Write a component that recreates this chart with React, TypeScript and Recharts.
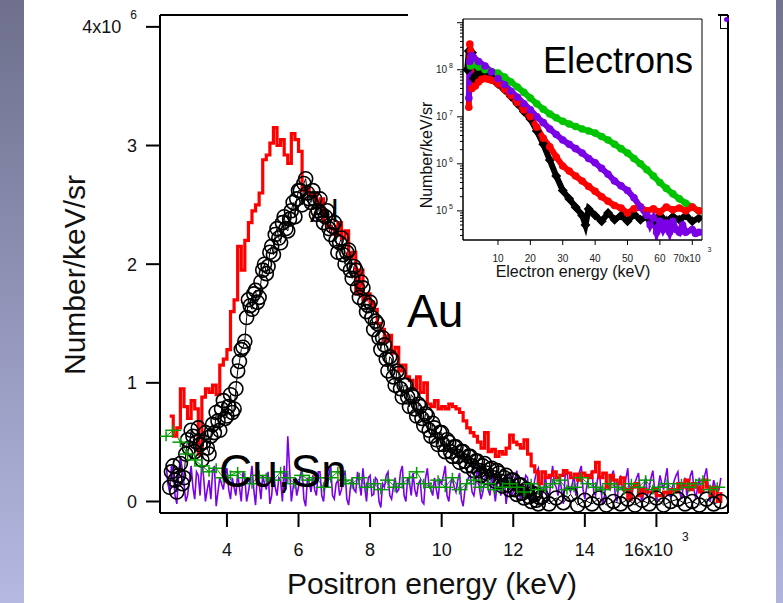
import React from 'react';
import { ComposedChart, LineChart, Line, XAxis, YAxis, ReferenceLine, ReferenceArea } from 'recharts';

const FONT = '"Liberation Sans", Arial, Helvetica, sans-serif';

// ---------- Main plot: positron spectra (x in keV, y in 10^6 Number/keV/sr) ----------
const fineEnergy = [
  2.3, 2.4, 2.5, 2.6, 2.7, 2.8, 2.9, 3.0, 3.1, 3.2, 3.3, 3.4, 3.5, 3.6, 3.7, 3.8, 3.9,
  4.0, 4.1, 4.2, 4.3, 4.4, 4.5, 4.6, 4.7, 4.8, 4.9,
  5.0, 5.1, 5.2, 5.3, 5.4, 5.5, 5.6, 5.7, 5.8, 5.9,
  6.0, 6.1, 6.2, 6.3, 6.4, 6.5, 6.6, 6.7, 6.8, 6.9,
  7.0, 7.1, 7.2, 7.3, 7.4, 7.5, 7.6, 7.7, 7.8, 7.9,
  8.0, 8.1, 8.2, 8.3, 8.4, 8.5, 8.6, 8.7, 8.8, 8.9,
  9.0, 9.1, 9.2, 9.3, 9.4, 9.5, 9.6, 9.7, 9.8, 9.9,
  10.0, 10.1, 10.2, 10.3, 10.4, 10.5, 10.6, 10.7, 10.8, 10.9,
  11.0, 11.1, 11.2, 11.3, 11.4, 11.5, 11.6, 11.7, 11.8, 11.9,
  12.0, 12.1, 12.2, 12.3, 12.4, 12.5, 12.6, 12.7, 12.8, 12.9,
  13.0, 13.1, 13.2, 13.3, 13.4, 13.5, 13.6, 13.7, 13.8, 13.9,
  14.0, 14.1, 14.2, 14.3, 14.4, 14.5, 14.6, 14.7, 14.8, 14.9,
  15.0, 15.1, 15.2, 15.3, 15.4, 15.5, 15.6, 15.7, 15.8, 15.9,
  16.0, 16.1, 16.2, 16.3, 16.4, 16.5, 16.6, 16.7, 16.8, 16.9,
  17.0, 17.1, 17.2, 17.3, 17.4, 17.5, 17.6, 17.7, 17.8,
];

const halfEnergy = [
  2.35, 2.45, 2.55, 2.65, 2.75, 2.85, 2.95, 3.05, 3.15, 3.25, 3.35, 3.45, 3.55, 3.65, 3.75, 3.85, 3.95,
  4.05, 4.15, 4.25, 4.35, 4.45, 4.55, 4.65, 4.75, 4.85, 4.95,
  5.05, 5.15, 5.25, 5.35, 5.45, 5.55, 5.65, 5.75, 5.85, 5.95,
  6.05, 6.15, 6.25, 6.35, 6.45, 6.55, 6.65, 6.75, 6.85, 6.95,
  7.05, 7.15, 7.25, 7.35, 7.45, 7.55, 7.65, 7.75, 7.85, 7.95,
  8.05, 8.15, 8.25, 8.35, 8.45, 8.55, 8.65, 8.75, 8.85, 8.95,
  9.05, 9.15, 9.25, 9.35, 9.45, 9.55, 9.65, 9.75, 9.85, 9.95,
  10.05, 10.15, 10.25, 10.35, 10.45, 10.55, 10.65, 10.75, 10.85, 10.95,
  11.05, 11.15, 11.25, 11.35, 11.45, 11.55, 11.65, 11.75, 11.85, 11.95,
  12.05, 12.15, 12.25, 12.35, 12.45, 12.55, 12.65, 12.75, 12.85, 12.95,
  13.05, 13.15, 13.25, 13.35, 13.45, 13.55, 13.65, 13.75, 13.85, 13.95,
  14.05, 14.15, 14.25, 14.35, 14.45, 14.55, 14.65, 14.75, 14.85, 14.95,
  15.05, 15.15, 15.25, 15.35, 15.45, 15.55, 15.65, 15.75, 15.85, 15.95,
  16.05, 16.15, 16.25, 16.35, 16.45, 16.55, 16.65, 16.75, 16.85, 16.95,
  17.05, 17.15, 17.25, 17.35, 17.45, 17.55, 17.65, 17.75,
];

const redCounts: (number | null)[] = [
  null, 0.72, 0.55, 0.62, 0.95, 0.8, 0.7, 0.85, 0.78, 0.4, 0.88, 0.95, 0.92, 0.98, 0.9, 1.15, 1.2,
  1.28, 1.6, 1.7, 2.15, 1.95, 2.2, 2.35, 2.45, 2.5, 2.6,
  2.88, 2.92, 3.02, 3.15, 3.0, 3.05, 2.92, 2.85, 3.1, 3.05,
  2.95, 2.62, 2.65, 2.58, 2.6, 2.5, 2.55, 2.35, 2.32, 2.3,
  2.25, 2.35, 2.22, 2.28, 2.05, 2.1, 1.75, 1.95, 1.7, 1.75,
  1.68, 1.62, 1.5, 1.45, 1.35, 1.4, 1.25, 1.3, 1.1, 1.15,
  1.05, 1.02, 0.95, 1.05, 0.92, 1.0, 0.82, 0.8, 0.85, 0.78,
  0.8, 0.78, 0.82, 0.8, 0.78, 0.75, 0.68, 0.62, 0.58, 0.55,
  0.5, 0.45, 0.58, 0.42, 0.44, 0.38, 0.42, 0.4, 0.45, 0.56,
  0.5, 0.48, 0.45, 0.52, 0.4, 0.3, 0.25, 0.15, 0.25, 0.2,
  0.22, 0.25, 0.2, 0.22, 0.26, 0.24, 0.2, 0.23, 0.18, 0.24,
  0.22, 0.2, 0.25, 0.33, 0.2, 0.24, 0.12, 0.22, 0.18, 0.15,
  0.2, 0.1, 0.02, 0.12, 0.15, 0.05, 0.1, 0.08, 0.08, 0.1,
  0.05, 0.05, 0.08, 0.07, 0.1, 0.08, 0.15, 0.12, 0.18, 0.1,
  0.15, 0.12, 0.08, 0.18, 0.12, 0.05, 0.12, 0.0, 0.08,
];

const purpleCounts = [
  0.32, 0.08, 0.25, -0.02, 0.38, 0.15, 0.05, 0.3, 0.02, 0.22, 0.35, 0.0, 0.18, 0.25, -0.04, 0.2, 0.1,
  0.28, 0.02, 0.12, 0.24, 0.0, 0.2, 0.08, 0.3, -0.03, 0.15,
  0.22, 0.1, -0.02, 0.26, 0.05, 0.18, 0.3, 0.55, 0.0, 0.2,
  0.12, 0.28, -0.04, 0.16, 0.22, 0.05, 0.25, 0.0, 0.14, 0.3,
  0.02, 0.18, 0.1, 0.26, -0.03, 0.2, 0.08, 0.15, 0.28, 0.0,
  0.22, 0.06, 0.18, -0.05, 0.12, 0.25, 0.02, 0.2, 0.1, 0.3,
  0.0, 0.16, 0.24, 0.04, 0.18, -0.02, 0.28, 0.1, 0.2, 0.02,
  0.15, 0.3, 0.0, 0.2, 0.08, 0.24, -0.04, 0.16, 0.22, 0.05,
  0.32, 0.02, 0.18, 0.1, 0.25, 0.0, 0.2, 0.12, -0.02, 0.22,
  0.08, 0.26, 0.02, 0.15, 0.2, -0.03, 0.18, 0.28, 0.05, 0.22,
  0.0, 0.3, 0.12, 0.2, -0.02, 0.26, 0.08, 0.22, 0.15, 0.3,
  0.02, 0.2, 0.25, 0.05, 0.28, -0.03, 0.18, 0.1, 0.26, 0.0,
  0.22, 0.08, 0.28, 0.02, 0.16, 0.24, -0.02, 0.2, 0.12, 0.26,
  0.0, 0.22, 0.1, 0.28, 0.04, 0.18, 0.25, 0.02, 0.2, 0.12,
  0.26, 0.02, 0.2, 0.15, 0.28, 0.0, 0.18, 0.08, 0.2,
];

const purpleHalfCounts = [
  0.15, 0.3, 0.05, 0.22, 0.28, 0.0, 0.18, 0.12, 0.25, 0.05, 0.2, 0.1, 0.02, 0.3, 0.08, 0.15, 0.22,
  0.1, 0.2, 0.05, 0.12, 0.25, 0.0, 0.18, 0.1, 0.22, 0.02,
  0.15, 0.25, 0.05, 0.12, 0.2, 0.0, 0.1, 0.28, 0.12, 0.05,
  0.22, 0.02, 0.2, 0.08, 0.1, 0.25, 0.05, 0.18, 0.22, 0.05,
  0.15, 0.05, 0.22, 0.02, 0.12, 0.1, 0.25, 0.05, 0.12, 0.2,
  0.05, 0.2, 0.0, 0.15, 0.22, 0.05, 0.12, 0.08, 0.25, 0.05,
  0.2, 0.05, 0.1, 0.15, 0.0, 0.2, 0.12, 0.05, 0.1, 0.18,
  0.22, 0.05, 0.15, 0.12, 0.18, 0.02, 0.1, 0.2, 0.08, 0.15,
  0.12, 0.08, 0.25, 0.05, 0.12, 0.15, 0.05, 0.2, 0.1, 0.05,
  0.2, 0.1, 0.08, 0.22, 0.02, 0.1, 0.25, 0.12, 0.1, 0.05,
  0.18, 0.15, 0.05, 0.1, 0.22, 0.12, 0.15, 0.05, 0.25, 0.1,
  0.12, 0.22, 0.08, 0.18, 0.1, 0.05, 0.12, 0.22, 0.05, 0.15,
  0.1, 0.2, 0.05, 0.12, 0.2, 0.08, 0.12, 0.05, 0.2, 0.1,
  0.12, 0.15, 0.2, 0.05, 0.12, 0.22, 0.08, 0.12, 0.05, 0.22,
  0.1, 0.12, 0.05, 0.22, 0.12, 0.08, 0.12, 0.1,
];

const blackEnergy = [
  2.4, 2.5, 2.6, 2.7, 2.8, 2.9, 3.0, 3.1, 3.2, 3.3, 3.4, 3.5, 3.6, 3.7, 3.8, 3.9,
  4.0, 4.1, 4.2, 4.3, 4.4, 4.5, 4.6, 4.7, 4.8, 4.9,
  5.0, 5.1, 5.2, 5.3, 5.4, 5.5, 5.6, 5.7, 5.8, 5.9,
  6.0, 6.1, 6.2, 6.3, 6.4, 6.5, 6.6, 6.7, 6.8, 6.9,
  7.0, 7.1, 7.2, 7.3, 7.4, 7.5, 7.6, 7.7, 7.8, 7.9,
  8.0, 8.1, 8.2, 8.3, 8.4, 8.5, 8.6, 8.7, 8.8, 8.9,
  9.0, 9.1, 9.2, 9.3, 9.4, 9.5, 9.6, 9.7, 9.8, 9.9,
  10.0, 10.1, 10.2, 10.3, 10.4, 10.5, 10.6, 10.7, 10.8, 10.9,
  11.0, 11.1, 11.2, 11.3, 11.4, 11.5, 11.6, 11.7, 11.8, 11.9,
  12.0, 12.1, 12.2, 12.3, 12.4, 12.5, 12.6, 12.7, 12.8,
  13.0, 13.2, 13.4, 13.6, 13.8, 14.0, 14.2, 14.4, 14.6, 14.8,
  15.0, 15.2, 15.4, 15.6, 15.8, 16.0, 16.2, 16.4, 16.6, 16.8,
  17.0, 17.2, 17.4, 17.6, 17.8,
];

const blackCounts = [
  0.12, 0.3, 0.08, 0.32, 0.2, 0.52, 0.6, 0.42, 0.62, 0.35, 0.58, 0.4, 0.65, 0.75, 0.6, 0.85,
  0.72, 0.9, 0.78, 1.1, 1.28, 1.35, 1.7, 1.62, 1.78, 1.72,
  1.95, 1.92, 2.1, 2.08, 2.3, 2.18, 2.4, 2.28, 2.45, 2.4,
  2.62, 2.5, 2.72, 2.55, 2.62, 2.42, 2.55, 2.35, 2.45, 2.25,
  2.35, 2.1, 2.22, 2.0, 2.12, 1.88, 1.95, 1.72, 1.8, 1.6,
  1.68, 1.45, 1.5, 1.28, 1.32, 1.1, 1.2, 0.98, 1.08, 0.88,
  0.98, 0.8, 0.88, 0.72, 0.8, 0.64, 0.72, 0.55, 0.62, 0.48,
  0.58, 0.42, 0.5, 0.38, 0.46, 0.33, 0.42, 0.3, 0.38, 0.26,
  0.34, 0.22, 0.32, 0.2, 0.28, 0.17, 0.24, 0.13, 0.22, 0.1,
  0.18, 0.06, 0.14, 0.03, 0.1, 0.0, 0.06, -0.02, 0.04,
  -0.02, 0.03, -0.01, 0.06, -0.03, 0.01, -0.02, 0.03, -0.03, 0.0,
  -0.02, 0.02, -0.03, 0.01, -0.02, 0.03, -0.03, 0.0, 0.02, -0.02,
  0.0, -0.03, 0.02, -0.02, 0.0,
];

const blackHalfEnergy = [
  2.45, 2.55, 2.65, 2.75, 2.85, 2.95, 3.05, 3.15, 3.25, 3.35, 3.45, 3.55, 3.65, 3.75, 3.85, 3.95,
  4.05, 4.15, 4.25, 4.35, 4.45, 4.55, 4.65, 4.75, 4.85, 4.95,
  5.05, 5.15, 5.25, 5.35, 5.45, 5.55, 5.65, 5.75, 5.85, 5.95,
  6.05, 6.15, 6.25, 6.35, 6.45, 6.55, 6.65, 6.75, 6.85, 6.95,
  7.05, 7.15, 7.25, 7.35, 7.45, 7.55, 7.65, 7.75, 7.85, 7.95,
  8.05, 8.15, 8.25, 8.35, 8.45, 8.55, 8.65, 8.75, 8.85, 8.95,
  9.05, 9.15, 9.25, 9.35, 9.45, 9.55, 9.65, 9.75, 9.85, 9.95,
  10.05, 10.15, 10.25, 10.35, 10.45, 10.55, 10.65, 10.75, 10.85, 10.95,
  11.05, 11.15, 11.25, 11.35, 11.45, 11.55, 11.65, 11.75, 11.85, 11.95,
  12.05, 12.15, 12.25, 12.35, 12.45, 12.55, 12.65, 12.75,
];

const blackHalfCounts = [
  0.25, 0.18, 0.22, 0.15, 0.4, 0.45, 0.55, 0.5, 0.48, 0.5, 0.45, 0.55, 0.58, 0.68, 0.78, 0.7,
  0.8, 0.75, 0.95, 1.18, 1.3, 1.55, 1.65, 1.75, 1.68, 1.85,
  2.0, 1.98, 2.15, 2.25, 2.22, 2.35, 2.3, 2.38, 2.52, 2.55,
  2.62, 2.68, 2.6, 2.52, 2.55, 2.45, 2.42, 2.4, 2.3, 2.32,
  2.2, 2.18, 2.08, 2.1, 1.95, 1.98, 1.8, 1.85, 1.68, 1.65,
  1.55, 1.52, 1.38, 1.38, 1.2, 1.22, 1.05, 1.1, 0.95, 0.98,
  0.88, 0.9, 0.78, 0.82, 0.7, 0.74, 0.6, 0.66, 0.52, 0.58,
  0.48, 0.52, 0.42, 0.46, 0.38, 0.42, 0.34, 0.38, 0.3, 0.34,
  0.26, 0.3, 0.24, 0.27, 0.2, 0.26, 0.17, 0.2, 0.14, 0.18,
  0.1, 0.14, 0.07, 0.1, 0.04, 0.07, 0.01, 0.03,
];

const greenEnergy = [
  2.3, 2.5, 2.7, 2.9, 3.1, 3.3, 3.5, 3.7, 3.9, 4.1, 4.3, 4.5, 4.7, 4.9,
  5.1, 5.3, 5.5, 5.7, 5.9, 6.1, 6.3, 6.5, 6.7, 6.9, 7.1, 7.3, 7.5, 7.7, 7.9,
  8.1, 8.3, 8.5, 8.7, 8.9, 9.1, 9.3, 9.5, 9.7, 9.9, 10.1, 10.3, 10.5, 10.7, 10.9,
  11.1, 11.3, 11.5, 11.7, 11.9, 12.1, 12.3, 12.5, 12.7, 12.9, 13.1, 13.3, 13.5, 13.7, 13.9,
  14.1, 14.3, 14.5, 14.7, 14.9, 15.1, 15.3, 15.5, 15.7, 15.9, 16.1, 16.3, 16.5, 16.7, 16.9,
  17.1, 17.3, 17.5, 17.7,
];

const greenCounts = [
  0.55, 0.6, 0.5, 0.4, 0.35, 0.3, 0.25, 0.28, 0.2, 0.22, 0.25, 0.2, 0.15, 0.22,
  0.2, 0.18, 0.25, 0.2, 0.15, 0.22, 0.18, 0.2, 0.12, 0.2, 0.25, 0.18, 0.15, 0.2, 0.12,
  0.15, 0.1, 0.18, 0.12, 0.15, 0.2, 0.25, 0.15, 0.12, 0.18, 0.12, 0.2, 0.1, 0.15, 0.18,
  0.12, 0.15, 0.1, 0.12, 0.15, 0.12, 0.08, 0.15, 0.1, 0.12, 0.15, 0.18, 0.1, 0.12, 0.2,
  0.15, 0.12, 0.1, 0.15, 0.12, 0.1, 0.15, 0.12, 0.18, 0.1, 0.12, 0.15, 0.1, 0.15, 0.12,
  0.15, 0.18, 0.1, 0.12,
];

const mainXTicks = [4, 6, 8, 10, 12, 14, 16];
const mainYTicks = [0, 1, 2, 3, 4];

// ---------- Inset: electron spectra (x in keV, y in Number/keV/sr) ----------
const elBlackE = [0.5, 1.0, 1.5, 2.0, 2.5, 3, 4, 5, 6, 7, 8, 10, 12, 14, 16, 18, 20, 22, 24, 26, 28, 30, 32, 34, 36, 37, 38, 40, 42, 44, 46, 48, 50, 52, 54, 56, 58, 60, 62, 64, 66, 68, 70, 72];
const elBlackN = [1.0e8, 2.5e8, 1.5e8, 2.3e8, 6.5e7, 7.5e7, 8.5e7, 8.7e7, 8.5e7, 8.0e7, 7.0e7, 5.0e7, 3.8e7, 2.7e7, 1.9e7, 1.3e7, 9e6, 5e6, 2.6e6, 1.2e6, 5.5e5, 2.7e5, 1.8e5, 1.2e5, 8e4, 5e4, 1.1e5, 8e4, 6e4, 9e4, 6.5e4, 8e4, 6e4, 8.5e4, 6.5e4, 7.5e4, 6e4, 8e4, 6e4, 7.5e4, 6.5e4, 8e4, 6e4, 7e4];

const elRedE = [1.0, 1.3, 1.6, 2.0, 3, 4, 5, 6, 7, 8, 10, 12, 14, 16, 18, 20, 22, 24, 26, 28, 30, 32, 34, 36, 38, 40, 42, 44, 46, 48, 50, 52, 54, 56, 58, 60, 62, 64, 66, 68, 70, 72];
const elRedN = [1.6e7, 3.5e8, 2.5e8, 4e7, 4.5e7, 5.5e7, 6.3e7, 6.5e7, 6.3e7, 6e7, 5e7, 3.8e7, 2.8e7, 2e7, 1.4e7, 1e7, 6e6, 3.5e6, 2.3e6, 1.4e6, 9e5, 7e5, 5.5e5, 4.3e5, 3.3e5, 2.6e5, 2e5, 1.6e5, 1.3e5, 1.15e5, 9e4, 1.1e5, 1.2e5, 1e5, 1.1e5, 9.5e4, 1.2e5, 1.05e5, 1.15e5, 1e5, 1.2e5, 1e5];

const elGreenE = [1.5, 2, 3, 4, 6, 8, 10, 12, 14, 16, 18, 20, 22, 24, 26, 28, 30, 32, 34, 36, 38, 40, 42, 44, 46, 48, 50, 52, 54, 56, 58, 60, 62, 64, 66, 68, 70, 72];
const elGreenN = [1.2e8, 1.5e8, 1.3e8, 1.15e8, 1.0e8, 9.2e7, 8.5e7, 7e7, 5.5e7, 4.3e7, 3.3e7, 2.5e7, 1.9e7, 1.45e7, 1.15e7, 9.5e6, 8e6, 7e6, 6.2e6, 5.5e6, 5e6, 4.5e6, 3.8e6, 3.2e6, 2.6e6, 2.1e6, 1.7e6, 1.3e6, 1e6, 7.5e5, 5.5e5, 4e5, 3e5, 2.3e5, 1.8e5, 1.45e5, 1.2e5, 1.0e5];

const elPurpleE = [1.0, 1.3, 1.8, 2.5, 4, 6, 8, 10, 12, 14, 16, 18, 20, 22, 24, 26, 28, 30, 32, 34, 36, 38, 40, 42, 44, 46, 48, 50, 52, 54, 56, 57, 58, 59, 60, 61, 62, 63, 64, 65, 66, 67, 68, 70, 71, 72];
const elPurpleN = [2.5e7, 1.5e8, 2.0e8, 1.8e8, 1.5e8, 1.2e8, 9e7, 6.5e7, 4.8e7, 3.5e7, 2.6e7, 1.9e7, 1.4e7, 1.0e7, 7.5e6, 5.5e6, 4.2e6, 3.2e6, 2.6e6, 2.1e6, 1.7e6, 1.3e6, 1.05e6, 8e5, 6e5, 4.3e5, 3.4e5, 2.7e5, 1.9e5, 1.2e5, 8e4, 5e4, 7e4, 3.5e4, 6e4, 4e4, 5.5e4, 3.5e4, 6e4, 4e4, 3.5e4, 5e4, 3.5e4, 4e4, 3.3e4, 3.5e4];

const insetXTicks = [10, 20, 30, 40, 50, 60, 70];
const insetYTicks = [
  3e4, 4e4, 5e4, 6e4, 7e4, 8e4, 9e4,
  1e5, 2e5, 3e5, 4e5, 5e5, 6e5, 7e5, 8e5, 9e5,
  1e6, 2e6, 3e6, 4e6, 5e6, 6e6, 7e6, 8e6, 9e6,
  1e7, 2e7, 3e7, 4e7, 5e7, 6e7, 7e7, 8e7, 9e7,
  1e8, 2e8, 3e8, 4e8, 5e8, 6e8, 7e8, 8e8, 9e8, 1e9,
];
const insetLabelledExponents = [5, 6, 7, 8];

// ---------- build series ----------
type Pt = { e: number; n: number | null };
const pairs = (xs: number[], ys: (number | null)[]): Pt[] =>
  xs.map((e, i) => ({ e, n: ys[i] })).filter((d) => d.n !== null && d.n !== undefined);
const merged = (a: Pt[], b: Pt[]) => [...a, ...b].sort((p, q) => p.e - q.e);

const redData = pairs(fineEnergy, redCounts);
const purpleData = merged(pairs(fineEnergy, purpleCounts), pairs(halfEnergy, purpleHalfCounts));
const blackData = merged(pairs(blackEnergy, blackCounts), pairs(blackHalfEnergy, blackHalfCounts));
const greenData = pairs(greenEnergy, greenCounts);

const elBlack = pairs(elBlackE, elBlackN);
const elRed = pairs(elRedE, elRedN);
const elGreen = pairs(elGreenE, elGreenN);
const elPurple = pairs(elPurpleE, elPurpleN);

// ---------- custom ticks & dots ----------
const MainYTick = (props: any) => {
  const { x, y, payload } = props;
  const v = payload.value;
  if (v === 4) {
    return (
      <text x={x} y={y} dy="0.355em" textAnchor="end" fontSize={18} fontFamily={FONT} fill="#111">
        4x10
        <tspan dx={9} dy={-14} fontSize={12}>6</tspan>
      </text>
    );
  }
  return (
    <text x={x} y={y} dy="0.355em" textAnchor="end" fontSize={18} fontFamily={FONT} fill="#111">
      {v}
    </text>
  );
};

const MainXTick = (props: any) => {
  const { x, y, payload } = props;
  const v = payload.value;
  if (v === 16) {
    return (
      <text x={x} y={y} dy="0.71em" textAnchor="middle" fontSize={18} fontFamily={FONT} fill="#111">
        16x10
        <tspan dx={9} dy={-15} fontSize={12}>3</tspan>
      </text>
    );
  }
  return (
    <text x={x} y={y} dy="0.71em" textAnchor="middle" fontSize={18} fontFamily={FONT} fill="#111">
      {v}
    </text>
  );
};

const InsetXTick = (props: any) => {
  const { x, y, payload } = props;
  const v = payload.value;
  if (v === 70) {
    return (
      <text x={x} y={y} dy="0.71em" textAnchor="middle" fontSize={10} fontFamily={FONT} fill="#222">
        70x10
        <tspan dx={7} dy={-10} fontSize={7}>3</tspan>
      </text>
    );
  }
  return (
    <text x={x} y={y} dy="0.71em" textAnchor="middle" fontSize={10} fontFamily={FONT} fill="#222">
      {v}
    </text>
  );
};

const InsetYTick = (props: any) => {
  const { x, y, payload } = props;
  const v = payload.value;
  const e = Math.log10(v);
  const exp = Math.round(e);
  const major = Math.abs(e - exp) < 1e-6;
  const labelled = major && insetLabelledExponents.includes(exp);
  return (
    <g>
      <line x1={x - (major ? 6 : 3)} x2={x} y1={y} y2={y} stroke="#000" strokeWidth={1} />
      {labelled && (
        <text x={x - 10} y={y} dy="0.35em" textAnchor="end" fontSize={10} fontFamily={FONT} fill="#222">
          10
          <tspan dx={2} dy={-5} fontSize={7}>{exp}</tspan>
        </text>
      )}
    </g>
  );
};

const PlusDot = (props: any) => {
  const { cx, cy, stroke } = props;
  if (cx == null || cy == null || isNaN(cy)) return <g />;
  return (
    <g>
      <line x1={cx - 8} x2={cx + 8} y1={cy} y2={cy} stroke={stroke} strokeWidth={1.5} />
      <line x1={cx} x2={cx} y1={cy - 5} y2={cy + 5} stroke={stroke} strokeWidth={1.5} />
    </g>
  );
};

const DiamondDot = (props: any) => {
  const { cx, cy } = props;
  if (cx == null || cy == null || isNaN(cy)) return <g />;
  const s = 5;
  return <path d={`M${cx},${cy - s}L${cx + s},${cy}L${cx},${cy + s}L${cx - s},${cy}Z`} fill="#000" />;
};

const BeadDot = (props: any) => {
  const { cx, cy, stroke } = props;
  if (cx == null || cy == null || isNaN(cy)) return <g />;
  return <circle cx={cx} cy={cy} r={3.8} fill={stroke} />;
};

const axisStroke = { stroke: '#000', strokeWidth: 2 };

export default function App() {
  return (
    <div
      style={{
        position: 'fixed',
        left: 0,
        top: 0,
        width: 783,
        height: 603,
        background: '#fff',
        overflow: 'hidden',
        fontFamily: FONT,
      }}
    >
      <div style={{ position: 'absolute', left: 0, top: 0, width: 24, height: 603, background: 'linear-gradient(#6d6f8c, #b5b9e2)' }} />
      <div style={{ position: 'absolute', left: 776, top: 0, width: 7, height: 603, background: 'linear-gradient(#73758f, #b1b5de)' }} />

      {/* label drawn behind the data */}
      <svg width={783} height={603} style={{ position: 'absolute', left: 0, top: 0 }}>
        <text x={310} y={222} fontSize={32} fontFamily={FONT} fill="#000">Al</text>
      </svg>

      <div style={{ position: 'absolute', left: 0, top: 0 }}>
        <ComposedChart width={783} height={603} margin={{ top: 15, right: 55, bottom: 0, left: 0 }}>
          <XAxis
            type="number"
            dataKey="e"
            domain={[2.13, 18.0]}
            allowDataOverflow
            ticks={mainXTicks}
            interval={0}
            height={90}
            tickSize={14}
            tickMargin={16}
            axisLine={axisStroke}
            tickLine={axisStroke}
            tick={MainXTick}
          />
          <YAxis
            type="number"
            domain={[-0.097, 4.1]}
            allowDataOverflow
            ticks={mainYTicks}
            interval={0}
            width={160}
            tickSize={14}
            tickMargin={9}
            axisLine={axisStroke}
            tickLine={axisStroke}
            tick={MainYTick}
          />
          <ReferenceLine y={4.1} stroke="#000" strokeWidth={2} ifOverflow="visible" />
          <ReferenceLine x={18.0} stroke="#000" strokeWidth={2} ifOverflow="visible" />
          <Line
            data={blackData}
            dataKey="n"
            type="linear"
            stroke="#000"
            strokeWidth={1}
            dot={{ r: 7, fill: 'none', stroke: '#000', strokeWidth: 1.6 }}
            isAnimationActive={false}
          />
          <Line
            data={greenData}
            dataKey="n"
            type="linear"
            stroke="#009c00"
            strokeWidth={1}
            dot={PlusDot}
            isAnimationActive={false}
          />
          <Line
            data={purpleData}
            dataKey="n"
            type="linear"
            stroke="#7a00e6"
            strokeWidth={1.6}
            dot={false}
            isAnimationActive={false}
          />
          <Line
            data={redData}
            dataKey="n"
            type="stepAfter"
            stroke="#ff0000"
            strokeWidth={3.2}
            dot={false}
            isAnimationActive={false}
          />
        </ComposedChart>
      </div>

      {/* annotations and axis titles */}
      <svg width={783} height={603} style={{ position: 'absolute', left: 0, top: 0 }}>
        <text x={85} y={275} transform="rotate(-90 85 275)" textAnchor="middle" fontSize={30} fontFamily={FONT} fill="#111">
          Number/keV/sr
        </text>
        <text x={432} y={594} textAnchor="middle" fontSize={30} fontFamily={FONT} fill="#111">
          Positron energy (keV)
        </text>
        <text x={407} y={327} fontSize={46} fontFamily={FONT} fill="#000">Au</text>
        <text x={219} y={487} fontSize={46} fontFamily={FONT} fill="#000">Cu,Sn</text>
      </svg>

      {/* inset */}
      <div style={{ position: 'absolute', left: 408, top: 0, width: 310, height: 290, background: '#fff' }}>
        <LineChart width={310} height={290} margin={{ top: 19, right: 16, bottom: 0, left: 0 }}>
          <XAxis
            type="number"
            dataKey="e"
            domain={[-0.8, 73]}
            allowDataOverflow
            ticks={insetXTicks}
            interval={0}
            height={50}
            tickSize={5}
            tickMargin={10}
            axisLine={{ stroke: '#000', strokeWidth: 1 }}
            tickLine={{ stroke: '#000', strokeWidth: 1 }}
            tick={InsetXTick}
          />
          <YAxis
            type="number"
            scale="log"
            domain={[24000, 1.2e9]}
            allowDataOverflow
            ticks={insetYTicks}
            interval={0}
            width={55}
            tickSize={0}
            tickMargin={0}
            tickLine={false}
            axisLine={{ stroke: '#000', strokeWidth: 1 }}
            tick={InsetYTick}
          />
          <ReferenceArea x1={-0.8} x2={73} y1={24000} y2={1.2e9} fill="none" stroke="#000" strokeWidth={1} ifOverflow="visible" />
          <Line data={elBlack} dataKey="n" type="linear" stroke="#000" strokeWidth={6} dot={DiamondDot} isAnimationActive={false} />
          <Line data={elGreen} dataKey="n" type="linear" stroke="#00c400" strokeWidth={6} dot={BeadDot} isAnimationActive={false} />
          <Line data={elRed} dataKey="n" type="linear" stroke="#ff0000" strokeWidth={6} dot={BeadDot} isAnimationActive={false} />
          <Line data={elPurple} dataKey="n" type="linear" stroke="#7a00e6" strokeWidth={6} dot={BeadDot} isAnimationActive={false} />
        </LineChart>
        <svg width={310} height={290} style={{ position: 'absolute', left: 0, top: 0 }}>
          <text x={135} y={73} fontSize={36} fontFamily={FONT} fill="#000">Electrons</text>
          <text x={24} y={155} transform="rotate(-90 24 155)" textAnchor="middle" fontSize={16} fontFamily={FONT} fill="#111">
            Number/keV/sr
          </text>
          <text x={165} y={277} textAnchor="middle" fontSize={16} fontFamily={FONT} fill="#111">
            Electron energy (keV)
          </text>
        </svg>
      </div>

      {/* cut-off legend box at top right */}
      <div style={{ position: 'absolute', left: 720, top: 14, width: 7, height: 14, borderLeft: '1px solid #000', borderBottom: '1px solid #000' }} />
      <div style={{ position: 'absolute', left: 724, top: 17, width: 5, height: 5, borderRadius: 3, background: '#7a00e6' }} />
    </div>
  );
}
